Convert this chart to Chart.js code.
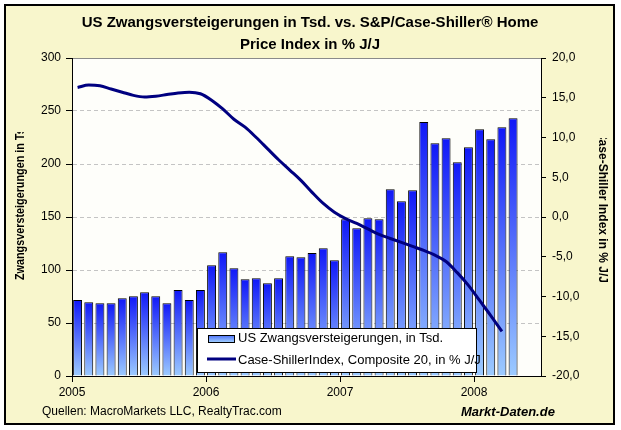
<!DOCTYPE html>
<html>
<head>
<meta charset="utf-8">
<script src="https://cdn.jsdelivr.net/npm/chart.js@4"></script>
<style>
  html, body { margin: 0; padding: 0; background: #fff; }
  canvas { display: block; }
</style>
</head>
<body>
<canvas id="chart" width="621" height="430"></canvas>
<script>
// ── Daten ─────────────────────────────────────────────────────
const MONATE = [
  "Jan 05", "Feb 05", "Mär 05", "Apr 05", "Mai 05", "Jun 05", "Jul 05", "Aug 05", "Sep 05", "Okt 05", "Nov 05", "Dez 05",
  "Jan 06", "Feb 06", "Mär 06", "Apr 06", "Mai 06", "Jun 06", "Jul 06", "Aug 06", "Sep 06", "Okt 06", "Nov 06", "Dez 06",
  "Jan 07", "Feb 07", "Mär 07", "Apr 07", "Mai 07", "Jun 07", "Jul 07", "Aug 07", "Sep 07", "Okt 07", "Nov 07", "Dez 07",
  "Jan 08", "Feb 08", "Mär 08", "Apr 08", "Mai 08", "Jun 08",
];
const JAHRE = ["2005", "2006", "2007", "2008"];

// Zwangsversteigerungen in Tsd.
const ZWANGS = [
  71.7, 69.5, 68.6, 68.6, 73.3, 75.2, 79.0, 75.2, 68.6, 81.1, 71.7, 81.1,
  104.4, 116.7, 101.6, 91.2, 92.1, 87.4, 92.1, 112.9, 112.0, 116.0, 120.5, 109.1,
  147.8, 139.3, 148.8, 147.8, 176.1, 164.8, 175.2, 239.6, 219.5, 224.2, 201.6, 215.8,
  232.7, 223.3, 234.6, 243.1,
];

// Case-Shiller Composite 20, % J/J
const CASE_SHILLER = [
  16.3, 16.6, 16.5, 16.1, 15.7, 15.3, 15.1, 15.2, 15.4, 15.6, 15.7, 15.5,
  14.7, 13.6, 12.3, 11.3, 10.0, 8.6, 7.2, 5.9, 4.6, 3.1, 1.7, 0.6,
  -0.2, -0.8, -1.5, -2.2, -2.7, -3.2, -3.7, -4.2, -4.8, -5.6, -7.0, -8.6,
  -10.5, -12.4, -14.4,
];

const TITEL = ["US Zwangsversteigerungen in Tsd. vs. S&P/Case-Shiller® Home", "Price Index in % J/J"];
const TITEL_LINKS = "Zwangsversteigerungen in Tsd.";
const TITEL_RECHTS = "Case-Shiller Index in % J/J";
const QUELLE = "Quellen: MacroMarkets LLC, RealtyTrac.com";
const MARKE = "Markt-Daten.de";

const FONT = '"Liberation Sans", Arial, sans-serif';

// ── Balkenverlauf ─────────────────────────────────────────────
function barGradient(ctx) {
  const chart = ctx.chart;
  const y = chart.scales.y;
  if (!chart.chartArea || !y || ctx.raw == null) return "#3344ff";
  const top = y.getPixelForValue(ctx.raw.y);
  const bottom = y.getPixelForValue(0);
  const g = chart.ctx.createLinearGradient(0, top, 0, bottom);
  g.addColorStop(0, "#1018f8");
  g.addColorStop(1, "#9ccbff");
  return g;
}

// ── Deko-Plugin ───────────────────────────────────────────────
const deko = {
  id: "deko",
  beforeDraw(chart) {
    const { ctx, chartArea: a } = chart;
    ctx.save();
    ctx.fillStyle = "#ffffff";
    ctx.fillRect(0, 0, chart.width, chart.height);
    ctx.fillStyle = "#f8f6cc";
    ctx.fillRect(5, 5, 609, 419);
    ctx.strokeStyle = "#000";
    ctx.lineWidth = 2;
    ctx.strokeRect(5, 5, 609, 419);
    ctx.fillStyle = "#fefefa";
    ctx.fillRect(a.left, a.top, a.right - a.left, a.bottom - a.top);
    ctx.strokeStyle = "#8a8a8a";
    ctx.lineWidth = 1;
    ctx.beginPath();
    ctx.moveTo(a.left, a.top + 0.5);
    ctx.lineTo(a.right, a.top + 0.5);
    ctx.stroke();
    ctx.restore();
  },
  afterDraw(chart) {
    const { ctx } = chart;
    ctx.save();
    ctx.fillStyle = "#000";
    ctx.textBaseline = "middle";

    // Titel
    ctx.font = "bold 15px " + FONT;
    ctx.textAlign = "center";
    ctx.fillText(TITEL[0], 310, 23);
    ctx.fillText(TITEL[1], 310, 45);

    // Achsentitel links (oben abgeschnitten, etwas schmaler)
    ctx.font = "bold 12px " + FONT;
    ctx.save();
    ctx.beginPath();
    ctx.rect(0, 132, 70, 300);
    ctx.clip();
    ctx.translate(21, 280);
    ctx.rotate(-Math.PI / 2);
    ctx.scale(0.9, 1);
    ctx.textAlign = "left";
    ctx.fillText(TITEL_LINKS, 0, 0);
    ctx.restore();

    // Achsentitel rechts (oben abgeschnitten)
    ctx.save();
    ctx.beginPath();
    ctx.rect(580, 138, 40, 300);
    ctx.clip();
    ctx.translate(602, 283);
    ctx.rotate(Math.PI / 2);
    ctx.textAlign = "right";
    ctx.fillText(TITEL_RECHTS, 0, 0);
    ctx.restore();

    // Fußzeile
    ctx.textAlign = "left";
    ctx.font = "12px " + FONT;
    ctx.fillText(QUELLE, 42, 412);
    ctx.font = "italic bold 13px " + FONT;
    ctx.fillText(MARKE, 461, 412);

    // Legende
    const lx = 197, ly = 328, lw = 279, lh = 44;
    ctx.fillStyle = "#fff";
    ctx.fillRect(lx, ly, lw, lh);
    ctx.strokeStyle = "#000";
    ctx.lineWidth = 1;
    ctx.strokeRect(lx + 0.5, ly + 0.5, lw, lh);

    const g = ctx.createLinearGradient(0, 335, 0, 342);
    g.addColorStop(0, "#4a6cf8");
    g.addColorStop(1, "#9ccbff");
    ctx.fillStyle = g;
    ctx.fillRect(208, 335, 26, 7);
    ctx.strokeRect(208.5, 335.5, 26, 7);

    ctx.strokeStyle = "#000080";
    ctx.lineWidth = 3;
    ctx.beginPath();
    ctx.moveTo(207, 359);
    ctx.lineTo(236, 359);
    ctx.stroke();

    ctx.fillStyle = "#000";
    ctx.font = "13px " + FONT;
    ctx.fillText(chart.data.datasets[0].label, 238, 338);
    ctx.fillText(chart.data.datasets[1].label, 238, 360);
    ctx.restore();
  },
};

// ── Diagramm ──────────────────────────────────────────────────
const tickFont = { family: FONT, size: 12 };

new Chart(document.getElementById("chart"), {
  type: "bar",
  data: {
    datasets: [
      {
        label: "US Zwangsversteigerungen, in Tsd.",
        data: ZWANGS.map((v, i) => ({ x: i + 0.5, y: v })),
        backgroundColor: barGradient,
        borderColor: "#000",
        borderWidth: 1,
        categoryPercentage: 1,
        barPercentage: 0.8,
        yAxisID: "y",
        order: 2,
      },
      {
        type: "line",
        label: "Case-ShillerIndex, Composite 20, in % J/J",
        data: CASE_SHILLER.map((v, i) => ({ x: i + 0.5, y: v })),
        borderColor: "#000080",
        borderWidth: 3,
        pointRadius: 0,
        cubicInterpolationMode: "monotone",
        fill: false,
        yAxisID: "y2",
        order: 1,
      },
    ],
  },
  options: {
    responsive: false,
    animation: false,
    layout: { padding: { top: 58, left: 0, right: 0, bottom: 0 } },
    plugins: {
      legend: { display: false },
      title: { display: false },
      tooltip: { enabled: false },
    },
    scales: {
      x: {
        type: "linear",
        offset: false,
        min: 0,
        max: MONATE.length,
        afterBuildTicks: (s) => {
          s.ticks = JAHRE.map((_, i) => ({ value: i * 12 }));
        },
        afterFit: (s) => { s.height = 54; },
        ticks: {
          callback: (v) => JAHRE[v / 12],
          color: "#000",
          font: tickFont,
          maxRotation: 0,
          autoSkip: false,
          padding: 3,
        },
        grid: { offset: false, drawOnChartArea: false, tickLength: 6, tickColor: "#000" },
        border: { color: "#000", width: 1 },
      },
      y: {
        position: "left",
        min: 0,
        max: 300,
        afterFit: (s) => { s.width = 72; },
        ticks: { stepSize: 50, color: "#000", font: tickFont, padding: 5 },
        grid: {
          color: (c) => (c.tick && (c.tick.value === 0 || c.tick.value === 300) ? "rgba(0,0,0,0)" : "#c4c4c4"),
          tickColor: "#000",
          tickLength: 6,
          tickBorderDash: [],
        },
        border: { color: "#000", width: 1, dash: [4, 3] },
      },
      y2: {
        position: "right",
        min: -20,
        max: 20,
        afterFit: (s) => { s.width = 80; },
        ticks: {
          stepSize: 5,
          color: "#000",
          font: tickFont,
          padding: 6,
          callback: (v) => v.toFixed(1).replace(".", ","),
        },
        grid: { drawOnChartArea: false, tickColor: "#000", tickLength: 5 },
        border: { color: "#000", width: 1 },
      },
    },
  },
  plugins: [deko],
});
</script>
</body>
</html>
